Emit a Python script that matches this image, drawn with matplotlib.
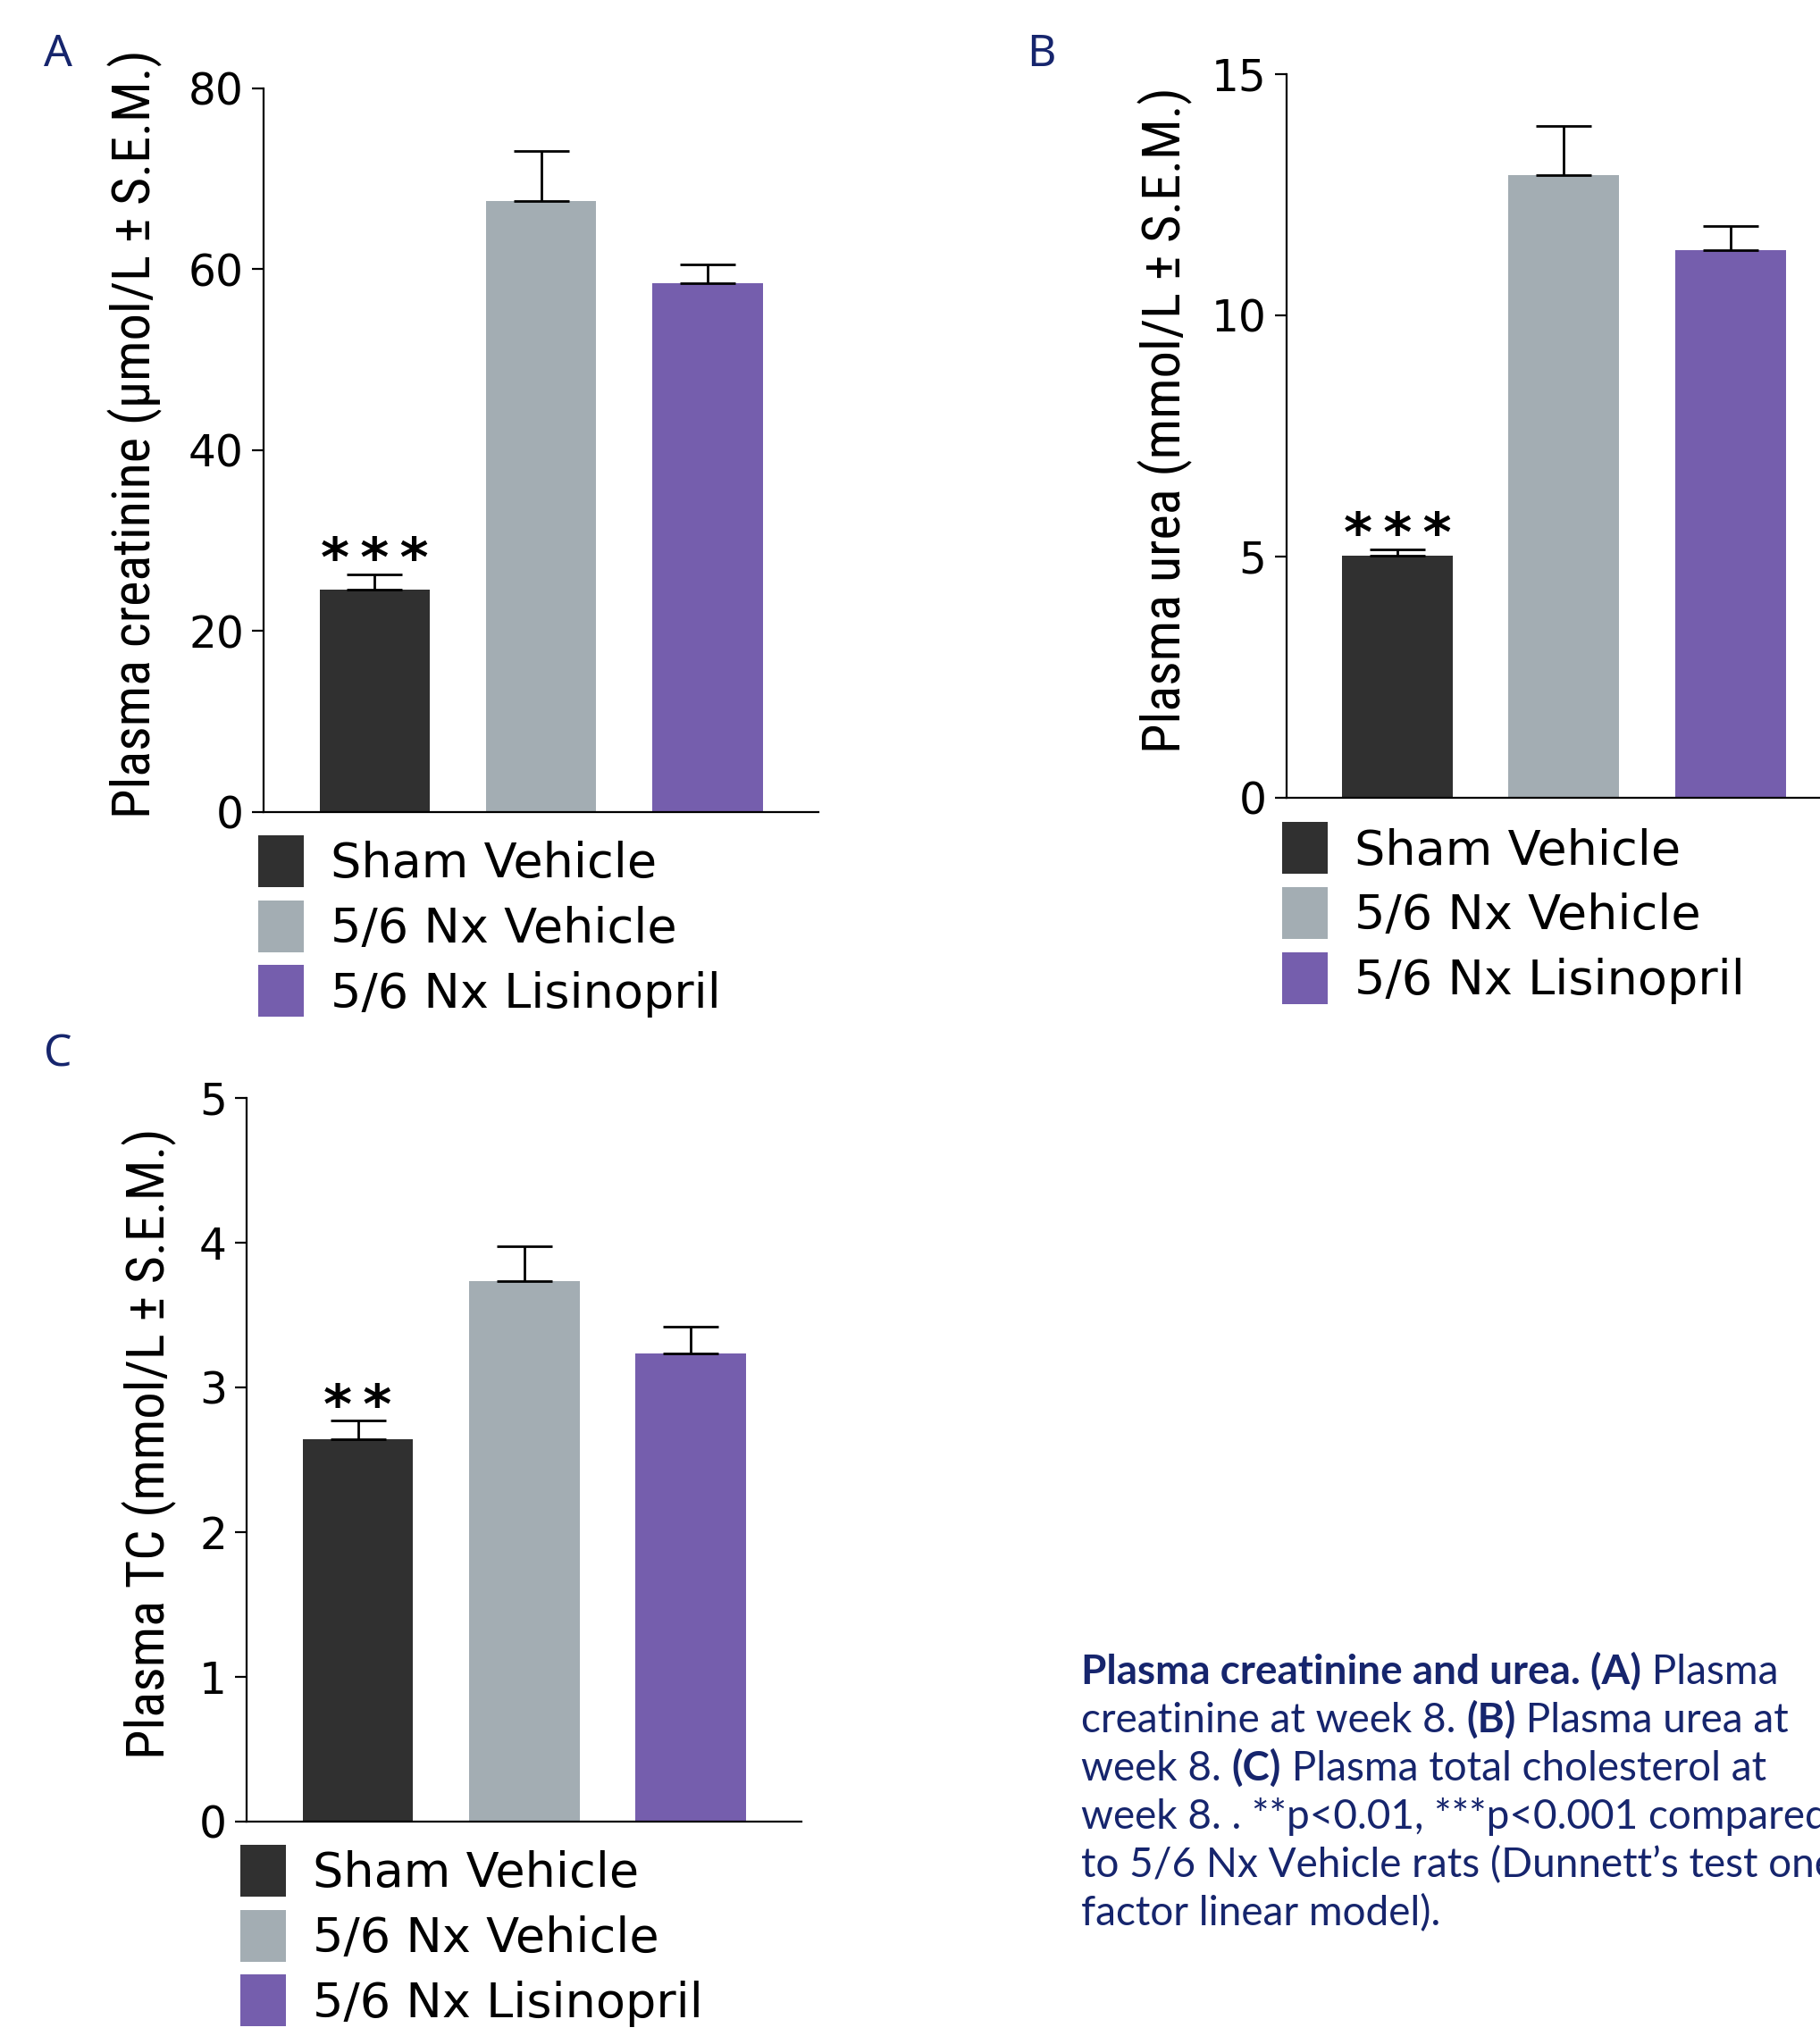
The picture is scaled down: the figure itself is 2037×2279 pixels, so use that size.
import matplotlib
matplotlib.use("Agg")
import matplotlib.pyplot as plt
import numpy as np

# groups and colours
groups = ["Sham Vehicle", "5/6 Nx Vehicle", "5/6 Nx Lisinopril"]
colors = ["#303030", "#a3adb3", "#755ead"]

# panel A: plasma creatinine (umol/L)
creat_mean = [24.6, 67.5, 58.5]
creat_sem = [1.7, 5.6, 2.0]
creat_stars = "***"

# panel B: plasma urea (mmol/L)
urea_mean = [5.02, 12.9, 11.35]
urea_sem = [0.13, 1.02, 0.50]
urea_stars = "***"

# panel C: plasma total cholesterol (mmol/L)
tc_mean = [2.64, 3.73, 3.23]
tc_sem = [0.13, 0.24, 0.19]
tc_stars = "**"

NAVY = "#16256d"
NARROW = ["Roboto Condensed", "Liberation Sans Narrow", "Roboto", "DejaVu Sans"]
CAPFONT = ["Lato", "Open Sans", "DejaVu Sans"]
W, H = 2037, 2279

fig = plt.figure(figsize=(W / 100, H / 100), dpi=100)


def panel(rect, means, sems, stars, ymax, step, ylabel, lab_x, leg_xy):
    ax = fig.add_axes(rect)
    x = np.arange(len(means))
    bars = ax.bar(x, means, width=0.665, color=colors, label=groups, zorder=2)
    ax.errorbar(x, means, yerr=[np.zeros(len(sems)), sems], fmt="none",
                ecolor="black", elinewidth=2.0, capsize=22, capthick=2.0, zorder=3)
    ax.annotate("\u2009".join(stars), (x[0], means[0] + sems[0]), xytext=(0, -2),
                textcoords="offset points", ha="center", va="baseline",
                fontsize=44, fontweight="bold", family="DejaVu Sans")
    ax.set_xlim(-0.668, 2.668)
    ax.set_ylim(0, ymax)
    ax.set_yticks(np.arange(0, ymax + step / 2, step))
    ax.set_xticks([])
    for s in ["top", "right"]:
        ax.spines[s].set_visible(False)
    for s in ["left", "bottom"]:
        ax.spines[s].set_linewidth(1.6)
    ax.tick_params(axis="y", length=9.5, width=1.6, pad=6.5, labelsize=35)
    ax.set_ylabel(ylabel, fontsize=43.5, family=NARROW, va="center")
    ax.yaxis.set_label_coords(lab_x, 0.522)
    ax.legend(handles=bars, labels=groups, loc="upper left",
              bbox_to_anchor=leg_xy, bbox_transform=fig.transFigure,
              frameon=False, fontsize=39, borderpad=0, borderaxespad=0,
              handlelength=0.94, handleheight=1.27, handletextpad=0.55,
              labelspacing=0.27)
    return ax


panel([0.1449, 0.6012, 0.3048, 0.3554], creat_mean, creat_sem, creat_stars,
      80, 20, "Plasma creatinine (\u00b5mol/L \u00b1 S.E.M.)", -0.232, (0.142, 0.5898))
panel([0.7067, 0.6083, 0.3052, 0.3554], urea_mean, urea_sem, urea_stars,
      15, 5, "Plasma urea (mmol/L \u00b1 S.E.M.)", -0.217, (0.7045, 0.5961))
panel([0.1356, 0.1055, 0.3048, 0.3554], tc_mean, tc_sem, tc_stars,
      5, 1, "Plasma TC (mmol/L \u00b1 S.E.M.)", -0.176, (0.1321, 0.0940))

for lbl, px, py in [("A", 65, 61), ("B", 1165, 61), ("C", 65, 1181)]:
    fig.text(px / W, 1 - py / H, lbl, color=NAVY, fontsize=36,
             ha="center", va="center", family="Noto Sans")

# caption, mixed bold / regular (runs off the right edge as in the source)
caption = [
    [("Plasma creatinine and urea. (A)", "bold"), (" Plasma", "normal")],
    [("creatinine at week 8. ", "normal"), ("(B)", "bold"), (" Plasma urea at", "normal")],
    [("week 8. ", "normal"), ("(C)", "bold"), (" Plasma total cholesterol at", "normal")],
    [("week 8. . **p<0.01, ***p<0.001 compared", "normal")],
    [("to 5/6 Nx Vehicle rats (Dunnett\u2019s test one", "normal")],
    [("factor linear model).", "normal")],
]
renderer = fig.canvas.get_renderer()
base_y = 1885
for i, line in enumerate(caption):
    xpix = 1210
    for seg, wt in line:
        t = fig.text(xpix / W, 1 - (base_y + i * 54) / H, seg, color=NAVY,
                     fontsize=33, fontweight=wt, family=CAPFONT,
                     ha="left", va="baseline")
        xpix = t.get_window_extent(renderer=renderer).x1

fig.savefig("out.png", dpi=100)
